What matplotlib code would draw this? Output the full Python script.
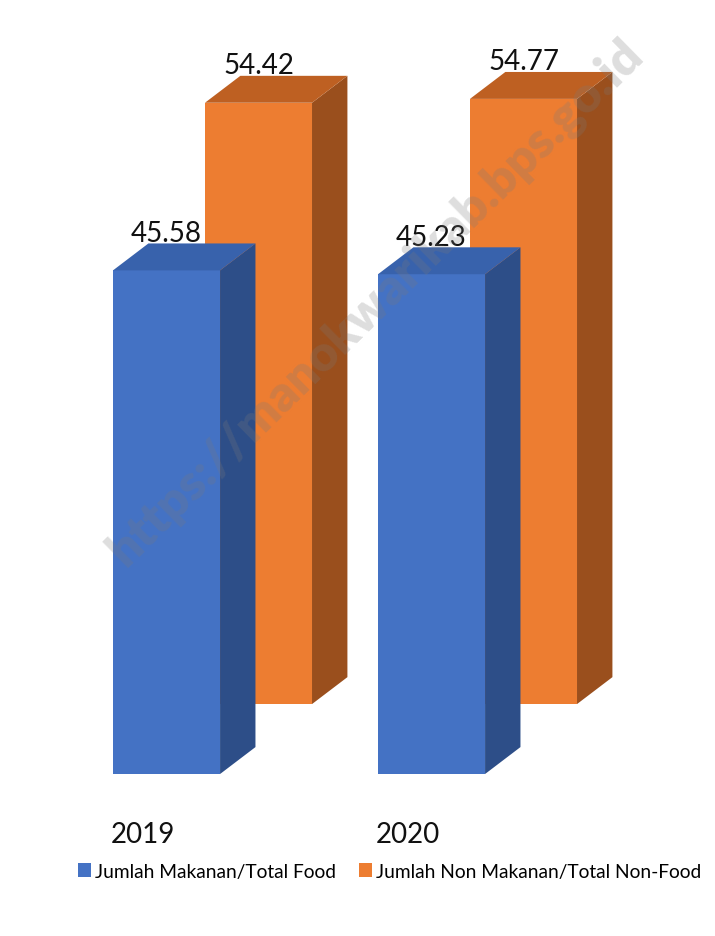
import matplotlib
matplotlib.use("Agg")
import matplotlib.pyplot as plt
from matplotlib.patches import Polygon, Patch

plt.rcParams['font.family'] = ['Lato', 'DejaVu Sans']

years = ['2019', '2020']
food = [45.58, 45.23]
non_food = [54.42, 54.77]
series_names = ['Jumlah Makanan/Total Food', 'Jumlah Non Makanan/Total Non-Food']

# front, top, side shades
blue = ('#4472C4', '#3862AC', '#2D4E88')
orange = ('#ED7D31', '#BE6022', '#9A4F1D')

bar_w = 0.404
row_dx, row_dy = 0.347, 6.33      # shift of the back row
thick = 0.385                     # bar depth as fraction of row shift
ddx, ddy = row_dx * thick, row_dy * thick

fig = plt.figure(figsize=(7.15, 9.37), dpi=100)
ax = fig.add_axes([0, 0, 1, 1])
ax.set_xlim(-0.4264, 2.2717)
ax.set_ylim(-14.66, 70.14)
ax.axis('off')


def draw_bar(x, base, h, cols, z):
    front, top, side = cols
    ax.add_patch(Polygon([(x, base), (x + bar_w, base), (x + bar_w, base + h), (x, base + h)],
                         closed=True, facecolor=front, edgecolor='none', zorder=z))
    ax.add_patch(Polygon([(x + bar_w, base), (x + bar_w + ddx, base + ddy),
                          (x + bar_w + ddx, base + h + ddy), (x + bar_w, base + h)],
                         closed=True, facecolor=side, edgecolor='none', zorder=z))
    ax.add_patch(Polygon([(x, base + h), (x + bar_w, base + h),
                          (x + bar_w + ddx, base + h + ddy), (x + ddx, base + h + ddy)],
                         closed=True, facecolor=top, edgecolor='none', zorder=z))
    ax.text(x + bar_w / 2, base + h + ddy + 0.25, f'{h:.2f}', ha='center', va='baseline',
            fontsize=20, color='#111111', zorder=z + 0.5)


for i, v in enumerate(non_food):
    draw_bar(i + row_dx, row_dy, v, orange, 1)
for i, v in enumerate(food):
    draw_bar(i, 0, v, blue, 3)

for i, yr in enumerate(years):
    ax.text(i - 0.01, -6.15, yr, ha='left', va='baseline', fontsize=20, color='#111111')

handles = [Patch(facecolor=blue[0], label=series_names[0]),
           Patch(facecolor=orange[0], label=series_names[1])]
fig.legend(handles=handles, loc='center', bbox_to_anchor=(0.545, 0.069), ncol=2,
           frameon=False, fontsize=13.8, handlelength=0.7, handleheight=0.7,
           handletextpad=0.2, columnspacing=1.2)

fig.text(375 / 715, 1 - 302 / 937, 'https://manokwarikab.bps.go.id', rotation=44.5,
         rotation_mode='anchor', ha='center', va='center', fontsize=36,
         fontweight='heavy', color='#7a7a7a', alpha=0.25, zorder=10)

fig.savefig('out.png', dpi=100)
